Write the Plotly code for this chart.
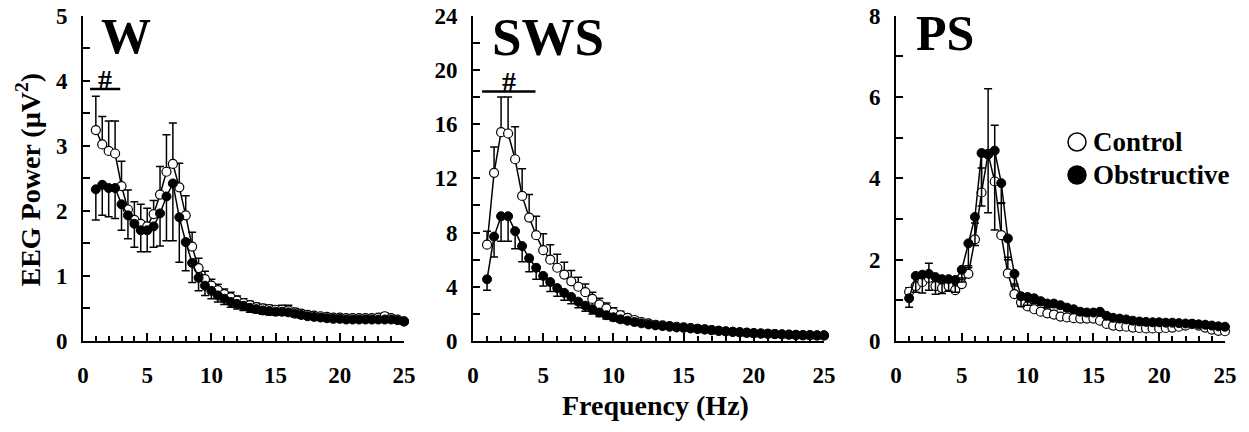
import plotly.graph_objects as go

# ---------------- data ----------------
freq = [1.0, 1.5, 2.0, 2.5, 3.0, 3.5, 4.0, 4.5, 5.0, 5.5, 6.0, 6.5, 7.0, 7.5, 8.0, 8.5,
        9.0, 9.5, 10.0, 10.5, 11.0, 11.5, 12.0, 12.5, 13.0, 13.5, 14.0, 14.5, 15.0, 15.5,
        16.0, 16.5, 17.0, 17.5, 18.0, 18.5, 19.0, 19.5, 20.0, 20.5, 21.0, 21.5, 22.0, 22.5,
        23.0, 23.5, 24.0, 24.5, 25.0]

w_ctrl = [3.24, 3.02, 2.92, 2.88, 2.38, 2.02, 1.86, 1.80, 1.76, 1.95, 2.25, 2.60, 2.72, 2.36, 1.93, 1.45,
          1.12, 0.95, 0.85, 0.78, 0.72, 0.67, 0.62, 0.58, 0.55, 0.52, 0.50, 0.49, 0.48, 0.48,
          0.47, 0.44, 0.42, 0.40, 0.39, 0.38, 0.37, 0.36, 0.36, 0.35, 0.35, 0.35, 0.35, 0.35,
          0.36, 0.38, 0.35, 0.33, 0.30]
w_ctrl_err = [0.52, 0.43, 0.46, 0.50, 0.38, 0.30, 0.28, 0.30, 0.28, 0.21, 0.43, 0.57, 0.63, 0.37, 0.30, 0.22,
              0.15, 0.12, 0.10, 0.09, 0.08, 0.08, 0.07, 0.07, 0.06, 0.06, 0.06, 0.06, 0.06, 0.07,
              0.08, 0.06, 0.05, 0.05, 0.04, 0.04, 0.04, 0.04, 0.04, 0.04, 0.04, 0.04, 0.04, 0.04,
              0.04, 0.05, 0.04, 0.04, 0.04]
w_obs = [2.33, 2.40, 2.35, 2.35, 2.10, 1.93, 1.80, 1.70, 1.70, 1.76, 1.96, 2.22, 2.42, 1.90, 1.52, 1.20,
         0.97, 0.85, 0.77, 0.70, 0.65, 0.60, 0.57, 0.54, 0.51, 0.49, 0.47, 0.46, 0.45, 0.45,
         0.44, 0.42, 0.40, 0.38, 0.37, 0.36, 0.35, 0.34, 0.34, 0.33, 0.33, 0.33, 0.33, 0.33,
         0.33, 0.33, 0.33, 0.32, 0.30]
w_obs_err = [0.47, 0.47, 0.44, 0.47, 0.40, 0.36, 0.36, 0.33, 0.33, 0.32, 0.50, 0.68, 0.88, 0.69, 0.44, 0.30,
             0.20, 0.15, 0.12, 0.10, 0.09, 0.08, 0.08, 0.07, 0.07, 0.06, 0.06, 0.06, 0.05, 0.05,
             0.05, 0.05, 0.05, 0.04, 0.04, 0.04, 0.04, 0.04, 0.04, 0.04, 0.04, 0.04, 0.04, 0.04,
             0.04, 0.04, 0.04, 0.04, 0.04]

sws_ctrl = [7.1, 12.4, 15.4, 15.3, 13.4, 10.7, 9.1, 7.8, 6.7, 6.0, 5.4, 4.9, 4.4, 4.0, 3.6, 3.1,
            2.7, 2.4, 2.1, 1.9, 1.7, 1.55, 1.4, 1.3, 1.2, 1.15, 1.1, 1.05, 1.0, 0.95,
            0.9, 0.85, 0.8, 0.75, 0.7, 0.67, 0.63, 0.6, 0.57, 0.55, 0.52, 0.5, 0.48, 0.46,
            0.44, 0.42, 0.41, 0.40, 0.40]
sws_ctrl_err = [1.0, 1.9, 2.6, 2.7, 2.4, 2.0, 1.7, 1.4, 1.2, 1.1, 1.0, 0.9, 0.8, 0.7, 0.6, 0.5,
                0.45, 0.4, 0.35, 0.3, 0.25, 0.22, 0.2, 0.18, 0.16, 0.15, 0.14, 0.13, 0.12, 0.12,
                0.11, 0.1, 0.1, 0.09, 0.09, 0.08, 0.08, 0.08, 0.07, 0.07, 0.07, 0.06, 0.06, 0.06,
                0.06, 0.05, 0.05, 0.05, 0.05]
sws_obs = [4.55, 7.7, 9.2, 9.2, 8.1, 7.0, 6.1, 5.4, 4.8, 4.35, 3.9, 3.55, 3.25, 2.9, 2.6, 2.35,
           2.1, 1.9, 1.75, 1.6, 1.5, 1.4, 1.3, 1.22, 1.15, 1.1, 1.05, 1.0, 0.97, 0.93,
           0.9, 0.85, 0.8, 0.76, 0.72, 0.68, 0.65, 0.62, 0.59, 0.56, 0.54, 0.52, 0.5, 0.48,
           0.46, 0.45, 0.44, 0.43, 0.43]
sws_obs_err = [0.8, 1.5, 1.85, 1.85, 1.3, 1.15, 1.0, 0.85, 0.75, 0.7, 0.6, 0.55, 0.5, 0.45, 0.4, 0.35,
               0.3, 0.28, 0.25, 0.22, 0.2, 0.18, 0.16, 0.15, 0.14, 0.13, 0.12, 0.12, 0.11, 0.11,
               0.1, 0.1, 0.09, 0.09, 0.08, 0.08, 0.08, 0.07, 0.07, 0.07, 0.06, 0.06, 0.06, 0.06,
               0.05, 0.05, 0.05, 0.05, 0.05]

ps_ctrl = [1.21, 1.35, 1.45, 1.55, 1.35, 1.30, 1.35, 1.25, 1.40, 1.65, 2.50, 3.65, 4.60, 3.92, 2.60, 1.66,
           1.15, 0.95, 0.85, 0.78, 0.72, 0.68, 0.65, 0.60, 0.58, 0.56, 0.55, 0.55, 0.55, 0.50,
           0.42, 0.38, 0.36, 0.35, 0.33, 0.32, 0.31, 0.31, 0.31, 0.32, 0.33, 0.35, 0.38, 0.42,
           0.38, 0.33, 0.28, 0.25, 0.24]
ps_ctrl_err = [0.10, 0.20, 0.20, 0.36, 0.20, 0.15, 0.15, 0.15, 0.15, 0.20, 0.40, 0.60, 1.60, 1.38, 0.80, 0.40,
               0.25, 0.15, 0.12, 0.10, 0.09, 0.08, 0.08, 0.07, 0.07, 0.06, 0.06, 0.06, 0.06, 0.06,
               0.05, 0.05, 0.05, 0.04, 0.04, 0.04, 0.04, 0.04, 0.04, 0.04, 0.04, 0.04, 0.04, 0.04,
               0.04, 0.04, 0.03, 0.03, 0.03]
ps_obs = [1.05, 1.60, 1.63, 1.65, 1.57, 1.52, 1.52, 1.50, 1.75, 2.40, 3.05, 4.62, 4.58, 4.68, 3.88, 2.52,
          1.65, 1.10, 1.08, 1.05, 0.98, 0.92, 0.92, 0.88, 0.82, 0.78, 0.72, 0.70, 0.70, 0.72,
          0.62, 0.57, 0.55, 0.53, 0.50, 0.48, 0.47, 0.46, 0.46, 0.45, 0.45, 0.44, 0.43, 0.42,
          0.41, 0.40, 0.38, 0.36, 0.35]
ps_obs_err = [0.22, 0.40, 0.45, 0.40, 0.42, 0.35, 0.30, 0.30, 0.30, 0.60, 0.70, 1.30, 1.43, 1.95, 0.50, 0.52,
              0.30, 0.25, 0.20, 0.12, 0.10, 0.10, 0.09, 0.09, 0.08, 0.08, 0.07, 0.07, 0.07, 0.07,
              0.06, 0.06, 0.05, 0.05, 0.05, 0.05, 0.05, 0.05, 0.04, 0.04, 0.04, 0.04, 0.04, 0.04,
              0.04, 0.04, 0.04, 0.04, 0.04]

panels = ["W", "SWS", "PS"]
y_max = [5, 24, 8]
y_major = [1, 4, 2]
y_minor = [0.5, 2, 1]
x_ticks = [0, 5, 10, 15, 20, 25]
sig_bars = {"W": (0.55, 2.9, 3.87), "SWS": (0.65, 4.45, 18.4)}
legend_names = ["Control", "Obstructive"]

series = [(w_ctrl, w_ctrl_err, w_obs, w_obs_err),
          (sws_ctrl, sws_ctrl_err, sws_obs, sws_obs_err),
          (ps_ctrl, ps_ctrl_err, ps_obs, ps_obs_err)]

# ---------------- layout geometry (window pixels) ----------------
FW, FH = 1249, 432
FONT = "Liberation Serif"


def px(x):
    return x / FW


def py(y):
    return 1 - y / FH


x_dom_px = [(83, 404), (473, 824), (896, 1225)]
y_dom = [py(341), py(15.5)]

fig = go.Figure()
n = len(freq)
for i, (c, ce, o, oe) in enumerate(series):
    xa = "x" if i == 0 else f"x{i+1}"
    ya = "y" if i == 0 else f"y{i+1}"
    fig.add_trace(go.Scatter(
        x=freq, y=c, xaxis=xa, yaxis=ya, mode="lines+markers", cliponaxis=False,
        line=dict(color="black", width=1.5),
        marker=dict(symbol="circle", size=9, color="white", line=dict(color="black", width=1.2)),
        error_y=dict(type="data", symmetric=False, array=ce, arrayminus=[0] * n,
                     color="black", thickness=1.5, width=4),
        showlegend=False))
    fig.add_trace(go.Scatter(
        x=freq, y=o, xaxis=xa, yaxis=ya, mode="lines+markers", cliponaxis=False,
        line=dict(color="black", width=1.5),
        marker=dict(symbol="circle", size=9, color="black", line=dict(color="black", width=1)),
        error_y=dict(type="data", symmetric=False, array=[0] * n, arrayminus=oe,
                     color="black", thickness=1.5, width=4),
        showlegend=False))

layout = dict(width=FW, height=FH, margin=dict(l=0, r=0, t=0, b=0, autoexpand=False),
              paper_bgcolor="white", plot_bgcolor="white", showlegend=False,
              font=dict(family=FONT, color="black"))
for i in range(3):
    sx = "xaxis" if i == 0 else f"xaxis{i+1}"
    sy = "yaxis" if i == 0 else f"yaxis{i+1}"
    ya = "y" if i == 0 else f"y{i+1}"
    xa = "x" if i == 0 else f"x{i+1}"
    layout[sx] = dict(domain=[px(x_dom_px[i][0]), px(x_dom_px[i][1])], anchor=ya, automargin=False,
                      range=[0, 25], tickvals=x_ticks, showgrid=False, zeroline=False,
                      showline=True, linecolor="black", linewidth=2,
                      ticks="inside", ticklen=8, tickwidth=2, tickcolor="black",
                      minor=dict(dtick=1, ticks="inside", ticklen=5, tickwidth=2, tickcolor="black", showgrid=False),
                      tickfont=dict(family=FONT, size=23, weight="bold", color="black"),
                      ticklabelstandoff=12, ticklabeloverflow="allow")
    layout[sy] = dict(domain=y_dom, anchor=xa, automargin=False, range=[0, y_max[i]], dtick=y_major[i], tick0=0,
                      showgrid=False, zeroline=False, showline=True, linecolor="black", linewidth=2,
                      ticks="inside", ticklen=7, tickwidth=2, tickcolor="black",
                      minor=dict(dtick=y_minor[i], ticks="inside", ticklen=7, tickwidth=2, tickcolor="black", showgrid=False),
                      tickfont=dict(family=FONT, size=23, weight="bold", color="black"),
                      ticklabelstandoff=9, ticklabeloverflow="allow")
fig.update_layout(**layout)

# panel labels
label_pos = [(99, 36), (490, 37), (914, 33)]
label_size = [50, 53, 50]
for name, (lx, ly), fs in zip(panels, label_pos, label_size):
    fig.add_annotation(text=name, xref="paper", yref="paper", x=px(lx), y=py(ly),
                       xanchor="left", yanchor="middle", showarrow=False,
                       font=dict(family=FONT, size=fs, weight="bold", color="black"))

# significance bars and '#'
for i, name in enumerate(panels):
    if name in sig_bars:
        x0, x1, yv = sig_bars[name]
        xr = "x" if i == 0 else f"x{i+1}"
        yr = "y" if i == 0 else f"y{i+1}"
        fig.add_shape(type="line", xref=xr, yref=yr, x0=x0, x1=x1, y0=yv, y1=yv,
                      line=dict(color="black", width=2.5))
        fig.add_annotation(text="#", xref=xr, yref=yr, x=(x0 + x1) / 2, y=yv,
                           xanchor="center", yanchor="bottom", showarrow=False, yshift=-8,
                           font=dict(family=FONT, size=28, weight="bold", color="black"))

# axis titles
fig.add_annotation(text="EEG Power (µV<sup>2</sup>)", xref="paper", yref="paper",
                   x=px(28.5), y=py(180), textangle=-90, showarrow=False,
                   xanchor="center", yanchor="middle",
                   font=dict(family=FONT, size=28, weight="bold", color="black"))
fig.add_annotation(text="Frequency (Hz)", xref="paper", yref="paper",
                   x=px(655), y=py(405), showarrow=False,
                   xanchor="center", yanchor="middle",
                   font=dict(family=FONT, size=28, weight="bold", color="black"))

# legend (drawn manually)
for name, fill, cy in zip(legend_names, ["white", "black"], [142, 175]):
    cx, r = 1077, 9
    fig.add_shape(type="circle", xref="paper", yref="paper",
                  x0=px(cx - r), x1=px(cx + r), y0=py(cy + r), y1=py(cy - r),
                  line=dict(color="black", width=1.5), fillcolor=fill)
    fig.add_annotation(text=name, xref="paper", yref="paper", x=px(1091), y=py(cy),
                       xanchor="left", yanchor="middle", showarrow=False,
                       font=dict(family=FONT, size=27, weight="bold", color="black"))

# remove the default 8px page margin so the figure fills the window exactly
fig.write_html("out.html", config={"displayModeBar": False},
               post_script="document.body.style.margin='0';document.body.style.overflow='hidden';")
